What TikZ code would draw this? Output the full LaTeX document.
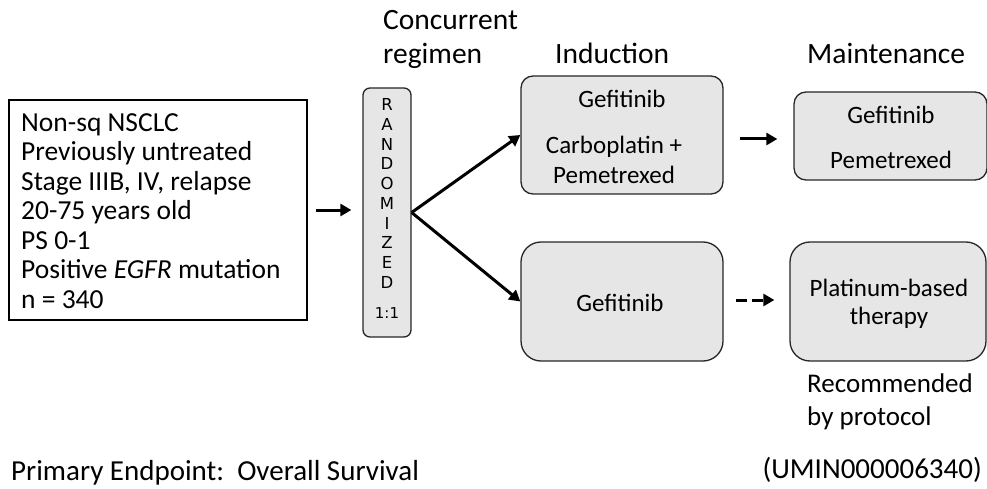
\documentclass[tikz,border=0pt]{standalone}
\usepackage{fontspec}
\setmainfont{Carlito}
\newfontfamily\randfont{DejaVu Sans}
\usetikzlibrary{arrows.meta}
\definecolor{boxfill}{HTML}{E6E6E6}
\tikzset{
  txt/.style={font=\fontsize{25}{30}\selectfont, inner sep=0pt},
  hdr/.style={font=\fontsize{29.5}{36}\selectfont, inner sep=0pt, align=left},
  foot/.style={font=\fontsize{29}{32}\selectfont, inner sep=0pt},
  gbox/.style={draw=black!85, line width=1.3pt, fill=boxfill, rounded corners=12pt, inner sep=0pt},
  arr/.style={line width=3pt, -{Triangle[length=11pt,width=12pt]}},
}
\begin{document}
\begin{tikzpicture}[x=1pt,y=-1pt]
\useasboundingbox (0,0) rectangle (987,489);
% population box
\node[draw=black, line width=1.3pt, minimum width=298, minimum height=220, inner sep=0pt] (pop) at (158,210) {};
\node[txt, anchor=west, align=left, font=\fontsize{27.5}{29.5}\selectfont] (poptxt) at (21,211) {Non-sq NSCLC\\Previously untreated\\Stage IIIB, IV, relapse\\20-75 years old\\PS 0-1\\Positive \textit{EGFR} mutation\\n = 340};
% randomized
\node[gbox, rounded corners=7pt, minimum width=48, minimum height=249] (rand) at (387,212.5) {};
\node[inner sep=0pt, align=center, font=\randfont\fontsize{16.5}{19.7}\selectfont] (randtxt) at (387,193.5) {R\\A\\N\\D\\O\\M\\I\\Z\\E\\D};
\node[inner sep=0pt, font=\randfont\fontsize{15}{16}\selectfont] (ratio) at (387,313) {1:1};
% headers
\node[hdr, anchor=base west] (conc) at (383,30) {Concurrent};
\node[hdr, anchor=base west] (reg) at (383,64) {regimen};
\node[hdr, anchor=base west] (ind) at (555,64) {Induction};
\node[hdr, anchor=base west] (maint) at (807,64) {Maintenance};
% arm boxes
\node[gbox, minimum width=202, minimum height=118] (ind1) at (622,135) {};
\node[txt] (ind1a) at (622,99) {Gefitinib};
\node[txt, align=center] (ind1b) at (614,160) {Carboplatin +\\Pemetrexed};
\node[gbox, minimum width=193, minimum height=88] (m1) at (890.5,136) {};
\node[txt] (m1a) at (891,115) {Gefitinib};
\node[txt] (m1b) at (891,160) {Pemetrexed};
\node[gbox, rounded corners=20pt, minimum width=202, minimum height=119] (ind2) at (622,301.5) {};
\node[txt] (ind2a) at (620,303) {Gefitinib};
\node[gbox, rounded corners=20pt, minimum width=196, minimum height=119] (m2) at (888,301.5) {};
\node[txt, align=center, font=\fontsize{25}{28}\selectfont] (m2a) at (889,304) {Platinum-based\\therapy};
\node[txt, anchor=base west] (rec1) at (807,392) {\fontsize{27}{30}\selectfont Recommended};
\node[txt, anchor=base west] (rec2) at (807,425) {\fontsize{27}{30}\selectfont by protocol};
% footer
\node[foot, anchor=base west] (prim) at (11,480) {Primary Endpoint:\ \ Overall Survival};
\node[foot, anchor=base east] (umin) at (982,478) {(UMIN000006340)};
% connectors
\draw[arr, shorten <=8pt, shorten >=11pt] (pop.east) -- (rand.west |- pop.east);
\draw[arr] (rand.east) -- (ind1.west);
\draw[arr] (rand.east) -- (ind2.west);
\draw[arr, shorten <=16pt, shorten >=16pt] (ind1.east |- 0,139) -- (m1.west |- 0,139);
\draw[arr, dash pattern=on 11pt off 5pt, shorten <=12pt, shorten >=15pt] (ind2.east |- 0,300) -- (m2.west |- 0,300);
\end{tikzpicture}
\end{document}
